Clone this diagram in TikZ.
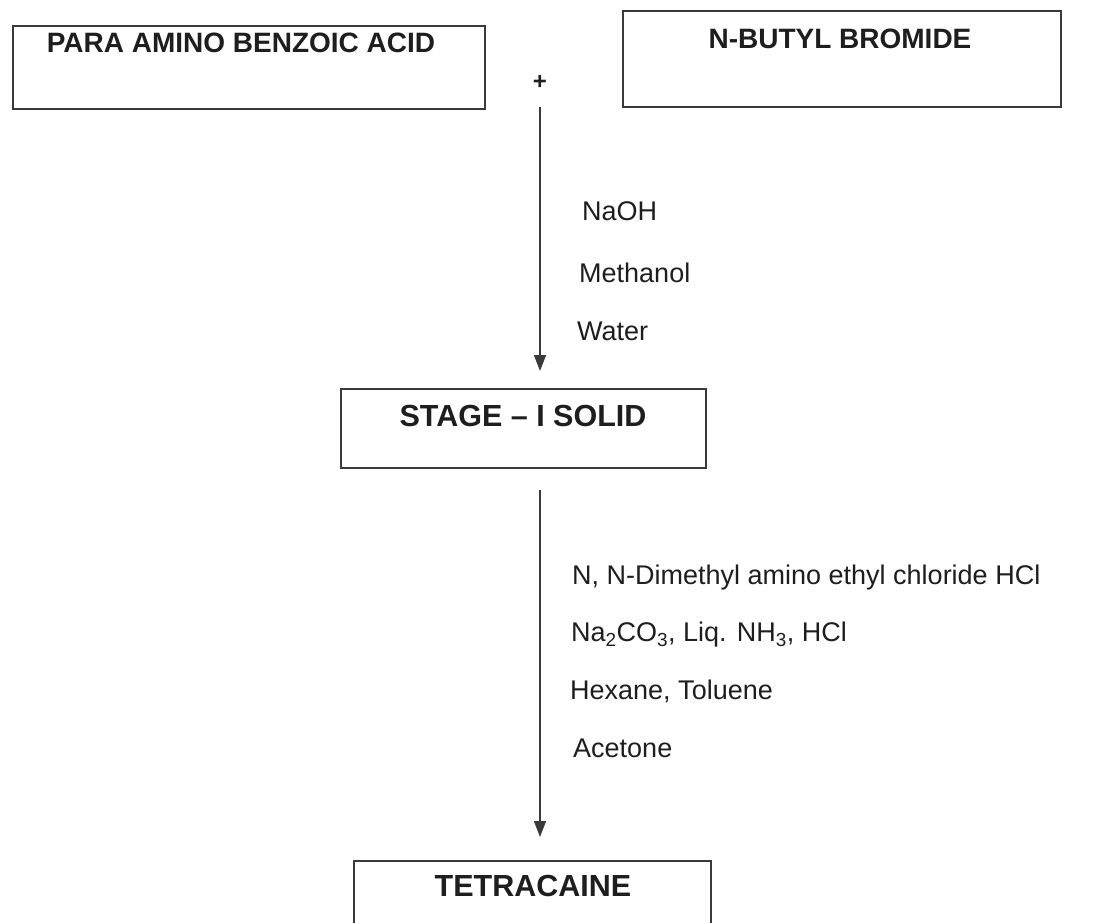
\documentclass[tikz,border=0pt]{standalone}
\usepackage{fontspec}
\setmainfont{Liberation Sans}
\usetikzlibrary{arrows.meta}
\definecolor{ink}{HTML}{1E1E1E}
\definecolor{edge}{HTML}{3A3A3A}
\begin{document}
\begin{tikzpicture}[x=1pt,y=-1pt,
  box/.style={draw=edge,line width=1.8pt,rectangle,inner sep=0pt,anchor=north west},
  boxtext/.style={font=\fontsize{28}{32}\selectfont\bfseries,text=ink,inner sep=0pt},
  bigtext/.style={font=\fontsize{30.5}{34}\selectfont\bfseries,text=ink,inner sep=0pt},
  reagent/.style={font=\fontsize{27}{31}\selectfont,text=ink,inner sep=0pt,anchor=west},
  arr/.style={draw=edge,line width=1.4pt,-{Triangle[length=16pt,width=12pt]}}]
\useasboundingbox (0,0) rectangle (1101,923);
\clip (0,0) rectangle (1101,923);
% boxes
\node[box,minimum width=472pt,minimum height=83pt] (b1) at (12,25) {};
\node[box,minimum width=438pt,minimum height=96pt] (b2) at (622,10) {};
\node[box,minimum width=365pt,minimum height=79pt] (st) at (340,388) {};
\node[box,minimum width=357pt,minimum height=100pt] (te) at (353,860) {};
% box texts
\node[boxtext] (t1) at (241,43) {PARA AMINO BENZOIC ACID};
\node[boxtext] (t2) at (840,39) {N-BUTYL BROMIDE};
\node[bigtext] (t3) at (523,416) {STAGE -- I SOLID};
\node[bigtext] (t4) at (533,886) {TETRACAINE};
% plus
\node[font=\fontsize{24}{28}\selectfont\bfseries,text=ink,inner sep=0pt] (plus) at (540,82) {+};
% arrows
\draw[arr,shorten <=18pt,shorten >=17pt] (plus.south) -- (plus.south |- st.north);
\coordinate (a2) at (540,467);
\draw[arr,shorten <=21pt,shorten >=23pt] (a2 |- st.south) -- (a2 |- te.north);
% reagents stage 1
\node[reagent] (r1) at (582,211) {NaOH};
\node[reagent] (r2) at (579,273) {Methanol};
\node[reagent] (r3) at (577,331) {Water};
% reagents stage 2
\node[reagent] (r4) at (572,578) {N, N-Dimethyl amino ethyl chloride HCl};
\node[reagent] (r5) at (571,635) {Na\textsubscript{2}CO\textsubscript{3}, Liq. NH\textsubscript{3}, HCl};
\node[reagent] (r6) at (570,691) {Hexane, Toluene};
\node[reagent] (r7) at (573,748) {Acetone};
\end{tikzpicture}
\end{document}
